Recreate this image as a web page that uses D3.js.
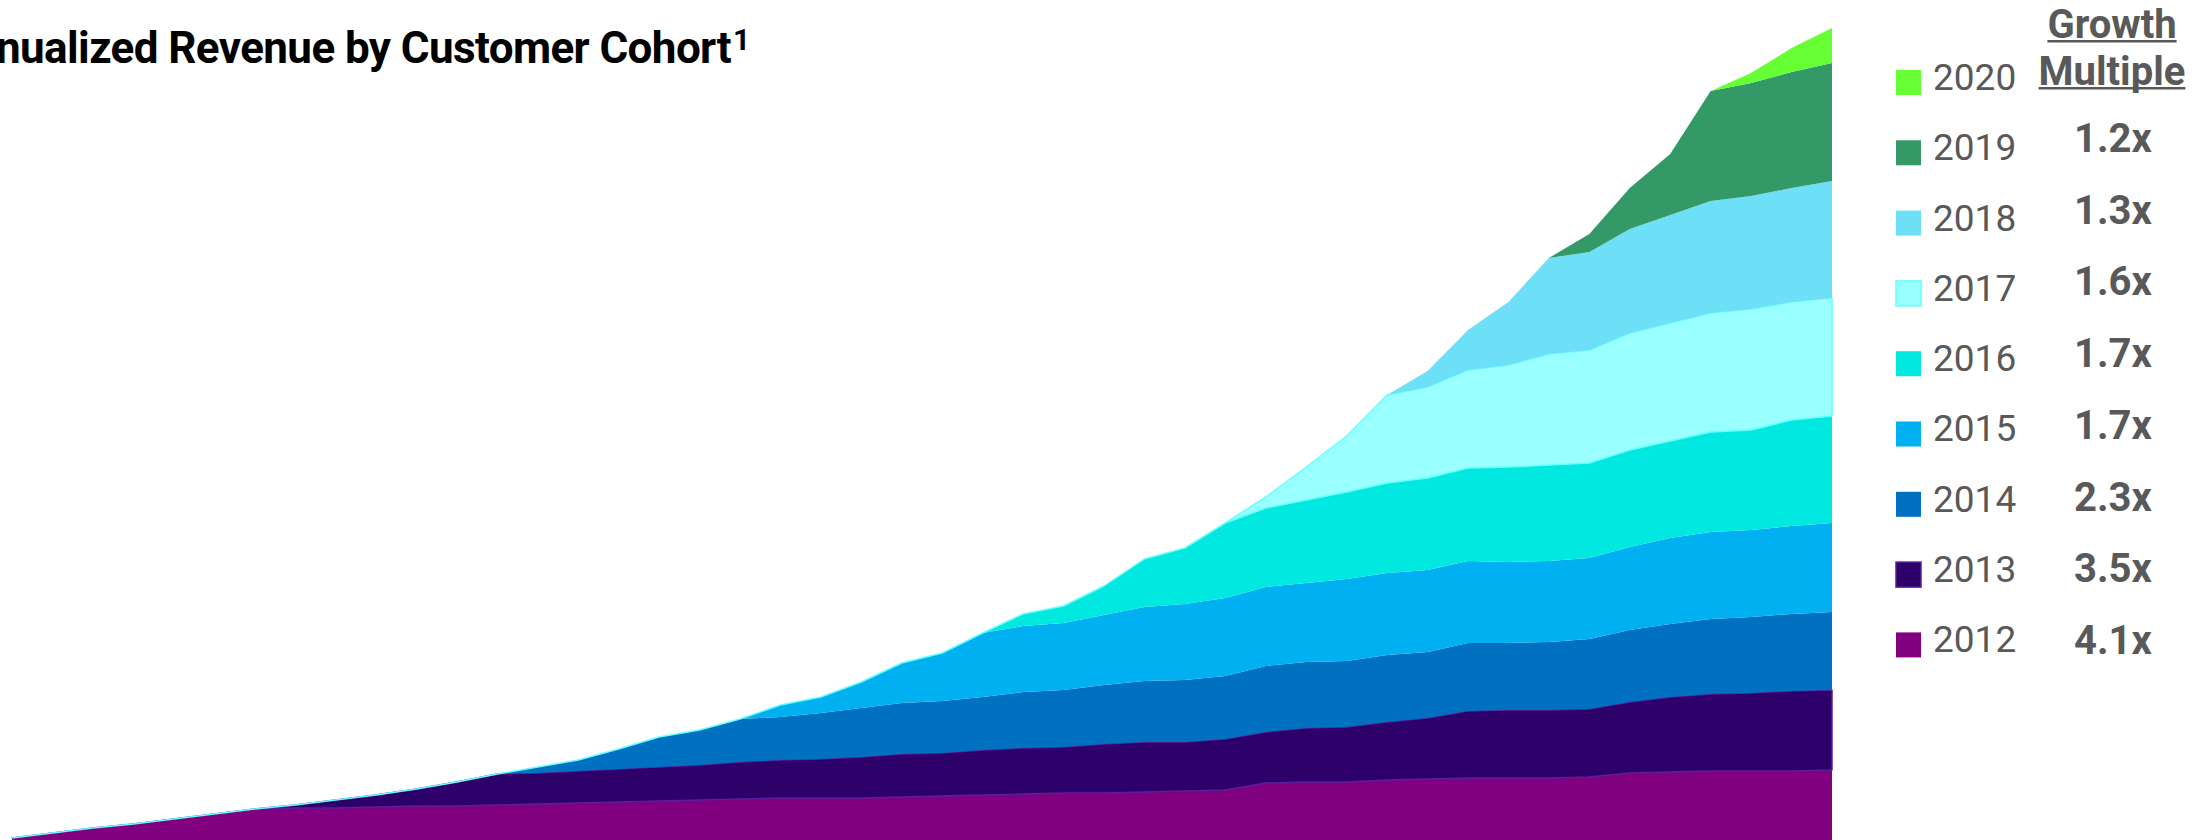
<!DOCTYPE html>
<html>
<head>
<meta charset="utf-8">
<script src="https://cdn.jsdelivr.net/npm/d3@7"></script>
<style>
  html, body { margin: 0; padding: 0; background: #fff; overflow: hidden; }
  svg { display: block; font-family: Roboto, "Open Sans", sans-serif; }
</style>
</head>
<body>
<svg id="chart"></svg>
<script>
// Quarterly periods (no axis is shown on the slide)
const periods = d3.range(46);

// Annualized revenue per cohort (relative units)
const c2012 = [2,7,12,16,21,26,31,32,32,33,34,34,35,36,37,38,39,40,41,42,42,42,43,44,45,46,47,47,48,49,50,57,58,58,60,61,62,62,62,63,67,68,69,69,69,70];
const c2013 = [0,0,0,0,0,0,0,3,8,12,17,24,31,31,32,33,34,35,37,38,39,41,43,43,45,46,46,49,50,49,51,51,54,55,58,61,67,68,68,68,71,75,77,78,80,80];
const c2014 = [0,0,0,0,0,0,0,0,0,0,0,0,0,6,11,20,30,35,43,43,46,49,51,52,53,56,57,59,61,62,63,66,66,66,67,66,68,67,68,70,72,73,75,76,77,78];
const c2015 = [0,0,0,0,0,0,0,0,0,0,0,0,0,0,0,0,0,0,0,12,16,26,40,48,64,66,67,70,74,76,78,79,79,82,82,82,82,81,81,81,83,86,87,87,88,89];
const c2016 = [0,0,0,0,0,0,0,0,0,0,0,0,0,0,0,0,0,0,0,0,0,0,0,0,0,12,17,29,48,56,75,79,83,87,90,92,93,95,96,95,97,97,100,100,106,107];
const c2017 = [0,0,0,0,0,0,0,0,0,0,0,0,0,0,0,0,0,0,0,0,0,0,0,0,0,0,0,0,0,0,0,11,33,56,88,91,98,102,111,113,117,118,119,121,118,118];
const c2018 = [0,0,0,0,0,0,0,0,0,0,0,0,0,0,0,0,0,0,0,0,0,0,0,0,0,0,0,0,0,0,0,0,0,0,0,16,40,63,96,98,104,108,112,113,114,117];
const c2019 = [0,0,0,0,0,0,0,0,0,0,0,0,0,0,0,0,0,0,0,0,0,0,0,0,0,0,0,0,0,0,0,0,0,0,0,0,0,0,0,18,41,61,110,113,116,118];
const c2020 = [0,0,0,0,0,0,0,0,0,0,0,0,0,0,0,0,0,0,0,0,0,0,0,0,0,0,0,0,0,0,0,0,0,0,0,0,0,0,0,0,0,0,0,10,24,35];

const cohorts = ["2012","2013","2014","2015","2016","2017","2018","2019","2020"];
const cohortValues = [c2012, c2013, c2014, c2015, c2016, c2017, c2018, c2019, c2020];
const growthMultiples = ["1.2x","1.3x","1.6x","1.7x","1.7x","2.3x","3.5x","4.1x"]; // 2019 down to 2012

const colors = {
    "2012": "#800080", "2013": "#2D006A", "2014": "#0070C0",
    "2015": "#00B0F0", "2016": "#00E8E0", "2017": "#99FFFF",
    "2018": "#6DDFF7", "2019": "#339966", "2020": "#66FF33"
};
const strokes = { "2013": "#5A1D9C", "2017": "#66FFFF" };

const width = 2211, height = 840;
const svg = d3.select("#chart").attr("width", width).attr("height", height);

// Build table for the stack
const table = periods.map((p, i) => {
    const row = { period: p };
    cohorts.forEach((c, j) => row[c] = cohortValues[j][i]);
    return row;
});
const series = d3.stack().keys(cohorts)(table);

const x = d3.scaleLinear().domain(d3.extent(periods)).range([12, 1832]);
const y = d3.scaleLinear()
    .domain([0, d3.max(series[series.length - 1], d => d[1])])
    .range([840, 28]);

const area = d3.area()
    .x(d => x(d.data.period))
    .y0(d => y(d[0]))
    .y1(d => y(d[1]));

svg.append("g")
    .selectAll("path")
    .data(series)
    .enter()
    .append("path")
    .attr("d", area)
    .attr("fill", d => colors[d.key])
    .attr("stroke", d => strokes[d.key] || "none")
    .attr("stroke-width", 1.5)
    .attr("stroke-linejoin", "round");

// Title, cut off on the left like the slide
const title = svg.append("text")
    .attr("y", 63)
    .attr("font-size", 44)
    .attr("font-weight", 700)
    .attr("letter-spacing", -0.6)
    .attr("fill", "#000")
    .text("Annualized Revenue by Customer Cohort");
const tw = title.node().getComputedTextLength();
title.attr("x", 731 - tw);
svg.append("text")
    .attr("x", 733)
    .attr("y", 50)
    .attr("font-size", 30)
    .attr("font-weight", 700)
    .attr("fill", "#000")
    .text("1");

// Legend (2020 on top)
const legendData = cohorts.slice().reverse();
const legend = svg.append("g");
legend.selectAll("rect")
    .data(legendData)
    .enter()
    .append("rect")
    .attr("x", 1896)
    .attr("y", (d, i) => 70 + i * 70.3)
    .attr("width", 25)
    .attr("height", 25)
    .attr("fill", d => colors[d])
    .attr("stroke", d => strokes[d] || "none")
    .attr("stroke-width", 1.5);
legend.selectAll("text")
    .data(legendData)
    .enter()
    .append("text")
    .attr("x", 1933)
    .attr("y", (d, i) => 90 + i * 70.25)
    .attr("font-size", 37)
    .attr("fill", "#595959")
    .text(d => d);

// Growth multiple column
const header = svg.append("g").attr("fill", "#595959");
[["Growth", 38], ["Multiple", 85]].forEach(([t, yy]) => {
    const txt = header.append("text")
        .attr("x", 2112)
        .attr("y", yy)
        .attr("text-anchor", "middle")
        .attr("font-size", 40)
        .attr("font-weight", 700)
        .text(t);
    const w = txt.node().getComputedTextLength();
    header.append("rect")
        .attr("x", 2112 - w / 2)
        .attr("y", yy + 2)
        .attr("width", w)
        .attr("height", 2.5);
});

svg.append("g")
    .selectAll("text")
    .data(growthMultiples)
    .enter()
    .append("text")
    .attr("x", 2113)
    .attr("y", (d, i) => 152 + i * 71.7)
    .attr("text-anchor", "middle")
    .attr("font-size", 40)
    .attr("font-weight", 700)
    .attr("fill", "#595959")
    .text(d => d);
</script>
</body>
</html>
